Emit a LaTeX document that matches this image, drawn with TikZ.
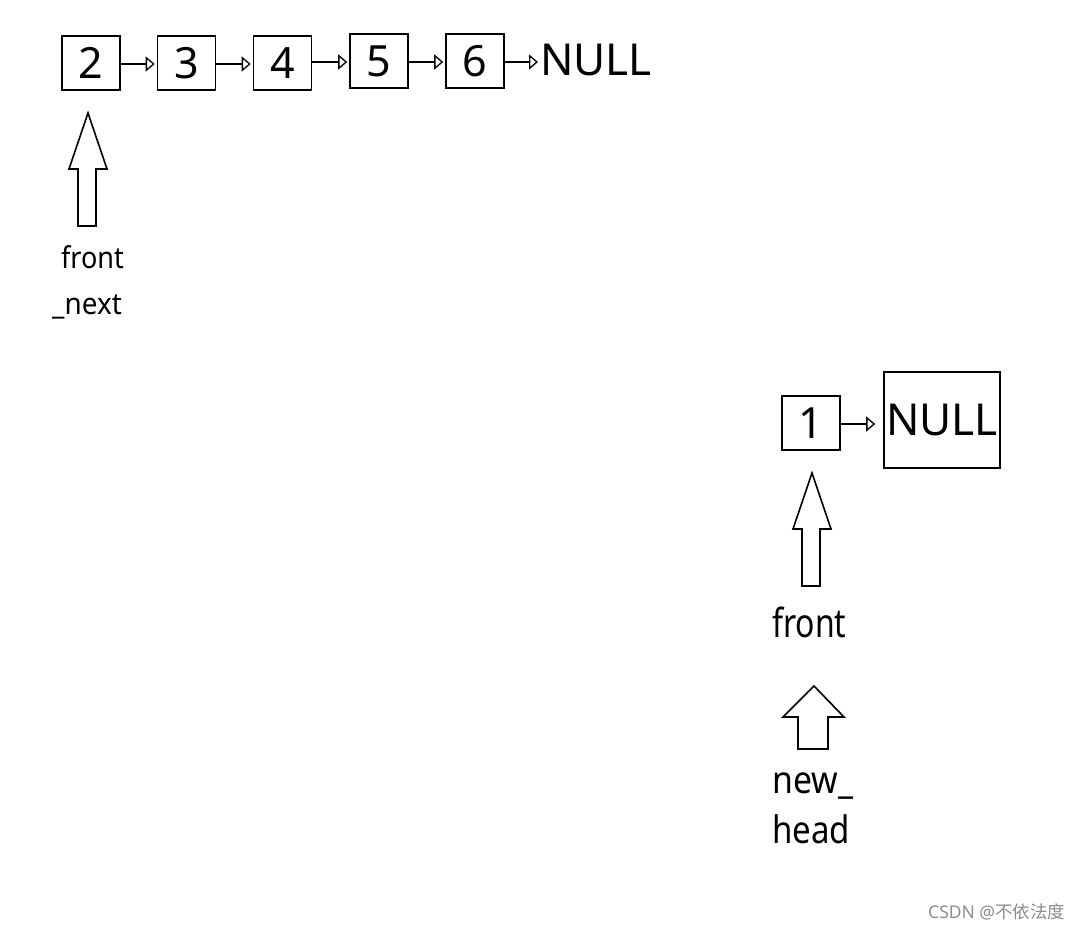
\documentclass[tikz,border=0pt]{standalone}
\usepackage{fontspec}
\setmainfont{Noto Sans}
\newfontfamily\cjkfont{Noto Sans CJK SC}
\usetikzlibrary{arrows.meta}
\begin{document}
\begin{tikzpicture}[x=1pt,y=-1pt,
  cell/.style={draw,line width=1.6pt,minimum width=58pt,minimum height=54pt,inner sep=0pt,font=\fontsize{43}{43}\selectfont},
  link/.style={line width=1.6pt,-{Triangle[open,length=9pt,width=15pt,line width=1.3pt]},shorten >=2pt},
  blockarrow/.style={draw,line width=1.6pt,line join=miter},
  lbl/.style={inner sep=0pt,anchor=base west}
]
\useasboundingbox (0,0) rectangle (1080,929);
% top list
\node[cell] (n2) at (91,63) {2};
\node[cell] (n3) at (186.5,63) {3};
\node[cell] (n4) at (282.5,63) {4};
\node[cell] (n5) at (379,61) {5};
\node[cell] (n6) at (475,61) {6};
\node[lbl,font=\fontsize{44}{44}\selectfont] (null1) at (540,75) {NULL};
\draw[link] (n2.east |- 0,64) -- (n3.west |- 0,64);
\draw[link] (n3.east |- 0,64) -- (n4.west |- 0,64);
\draw[link] (n4.east |- 0,62) -- (n5.west |- 0,62);
\draw[link] (n5.east |- 0,62) -- (n6.west |- 0,62);
\draw[link] (n6.east |- 0,62) -- (null1.west |- 0,62);
% front_next arrow
\draw[blockarrow] (88,113) -- (107,169) -- (96,169) -- (96,226) -- (78,226) -- (78,169) -- (69,169) -- cycle;
\node[lbl,font=\fontsize{30}{30}\selectfont] (fn1) at (61,268) {\scalebox{0.9}[1]{front}};
\node[lbl,font=\fontsize{30}{30}\selectfont] (fn2) at (52,314) {\scalebox{0.93}[1]{\_next}};
% lower list
\node[cell] (n1) at (811,423) {1};
\node[draw,line width=1.6pt,minimum width=116pt,minimum height=96pt,inner sep=0pt,font=\fontsize{44}{44}\selectfont] (null2) at (942,420) {NULL};
\draw[link,shorten >=8pt] (n1.east |- 0,424) -- (null2.west |- 0,424);
% front arrow
\draw[blockarrow] (812,473) -- (831,529) -- (820,529) -- (820,586) -- (802,586) -- (802,529) -- (793,529) -- cycle;
\node[lbl,font=\fontsize{40}{40}\selectfont] (fr) at (772,637) {\scalebox{0.8}[1]{front}};
% new_head arrow
\draw[blockarrow] (814,686) -- (844,717) -- (828,717) -- (828,749) -- (798,749) -- (798,717) -- (783,717) -- cycle;
\node[lbl,font=\fontsize{38}{38}\selectfont] (nh1) at (772,793) {\scalebox{0.89}[1]{new\_}};
\node[lbl,font=\fontsize{38}{38}\selectfont] (nh2) at (772,843) {\scalebox{0.87}[1]{head}};
% watermark
\node[lbl,text=black!45,font=\fontsize{17.5}{17.5}\selectfont] (wm) at (928,918) {CSDN @{\cjkfont 不依法度}};
\end{tikzpicture}
\end{document}
